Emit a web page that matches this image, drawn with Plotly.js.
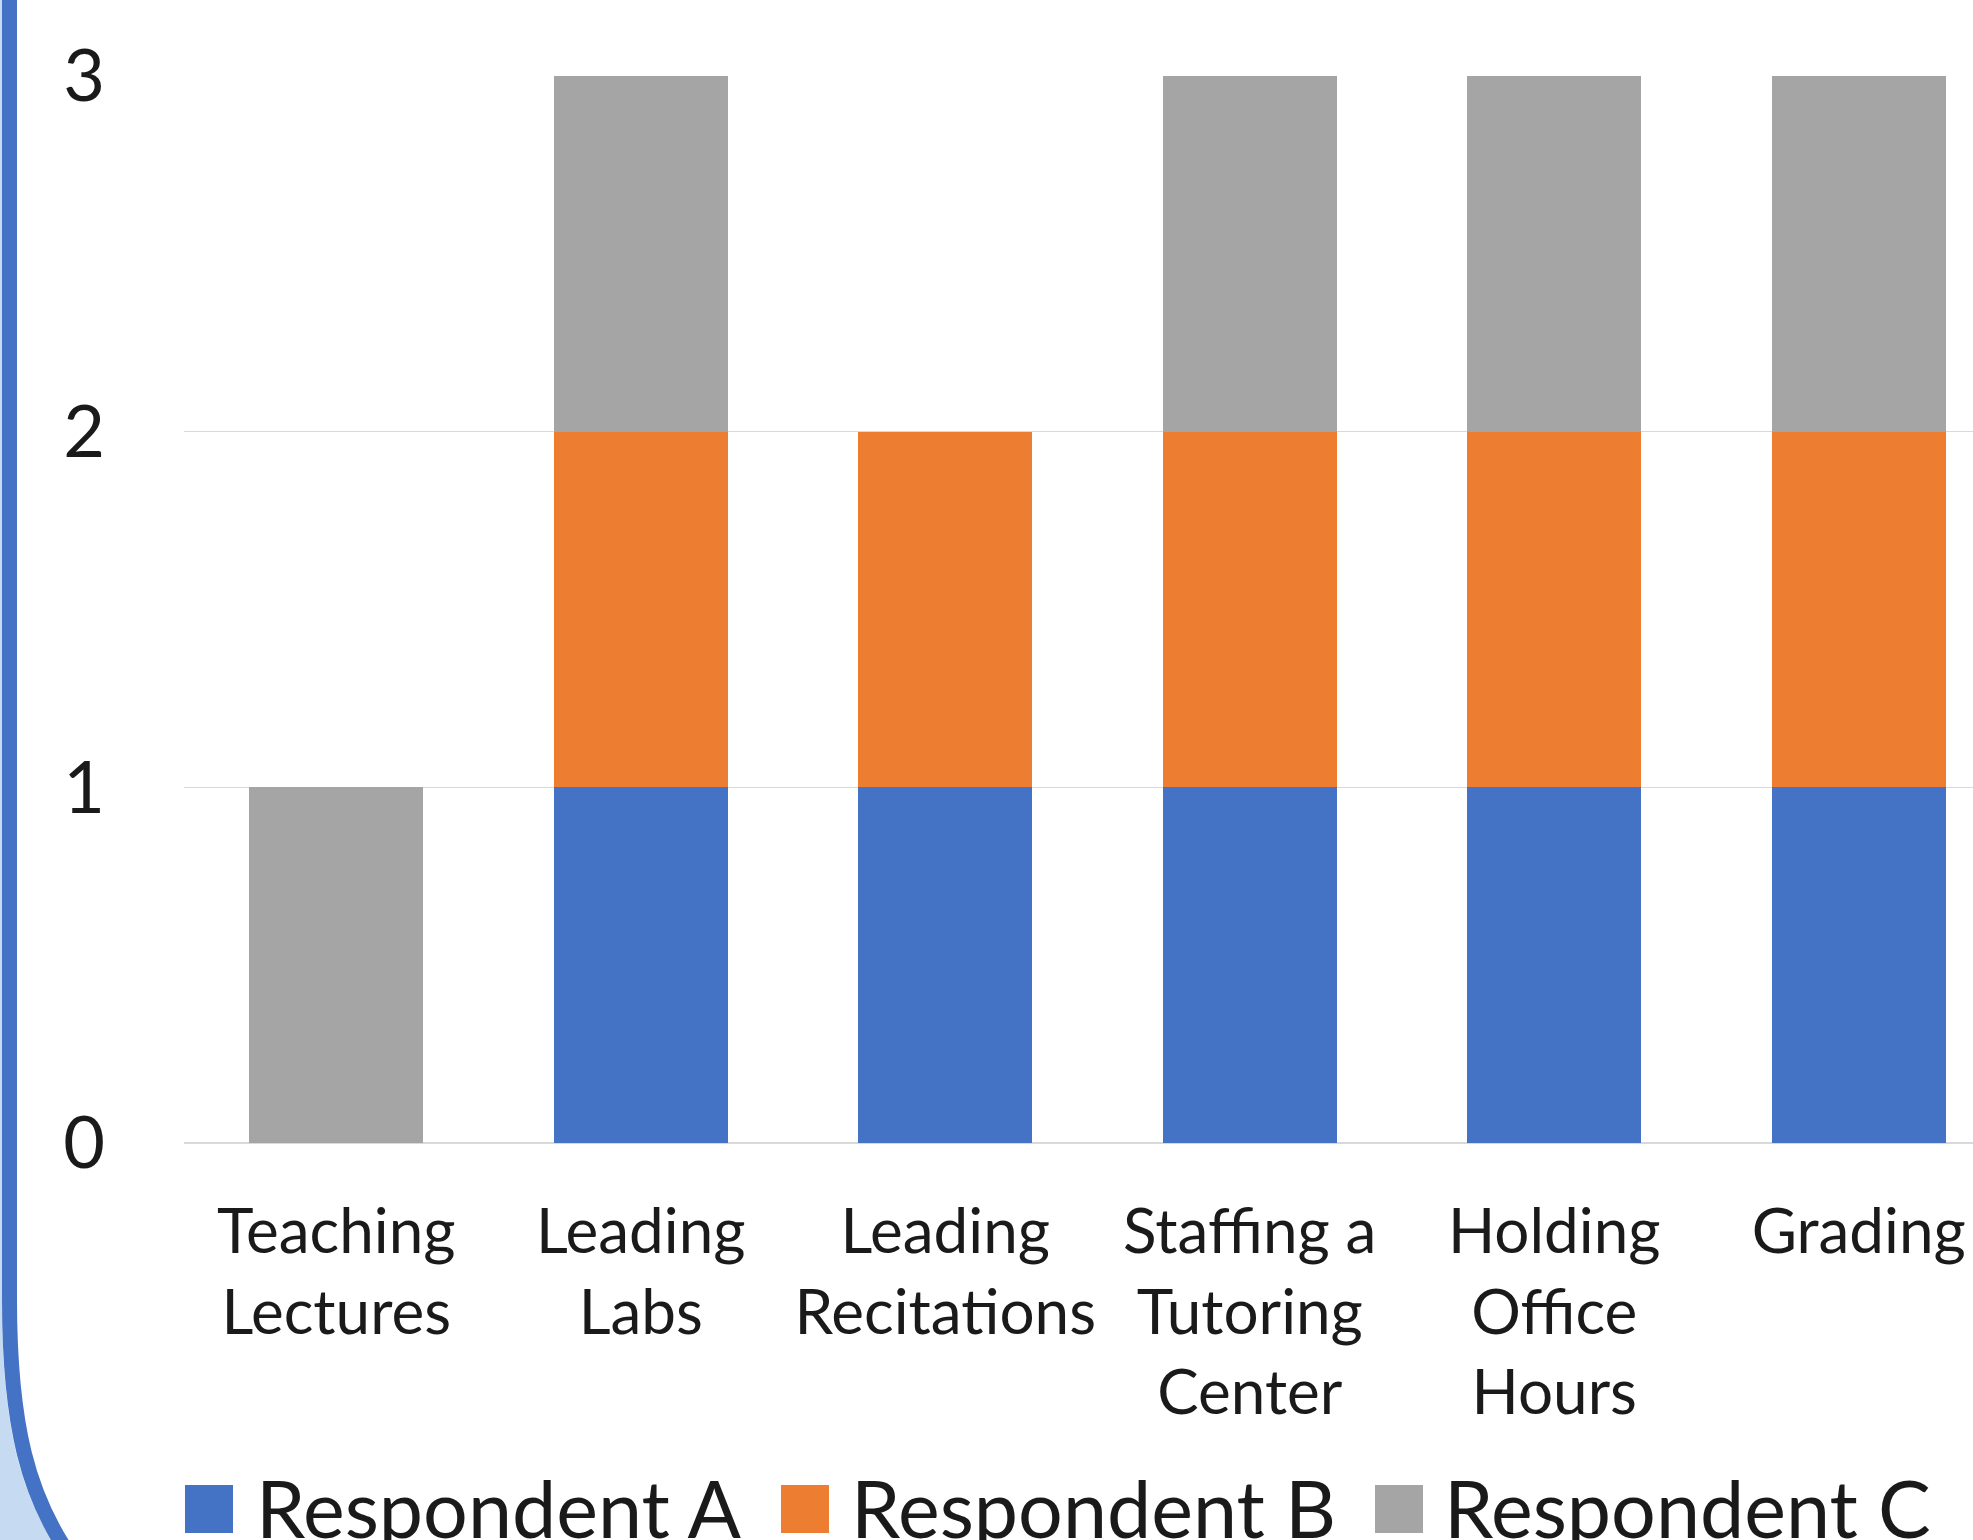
<!DOCTYPE html>
<html>
<head>
<meta charset="utf-8">
<script src="https://cdn.plot.ly/plotly-3.0.1.min.js"></script>
<style>
html,body{margin:0;padding:0;background:#fff;overflow:hidden;}
#chart{width:1973px;height:1540px;}
</style>
</head>
<body>
<div id="chart"></div>
<script>
// ---- data ----
var categories = ["Teaching<br>Lectures", "Leading<br>Labs", "Leading<br>Recitations",
                  "Staffing a<br>Tutoring<br>Center", "Holding<br>Office<br>Hours", "Grading"];
var seriesNames = ["Respondent A", "Respondent B", "Respondent C"];
var respondentA = [0, 1, 1, 1, 1, 1];
var respondentB = [0, 1, 1, 1, 1, 1];
var respondentC = [1, 1, 0, 1, 1, 1];
var yTickValues = [0, 1, 2, 3];
var yTickLabels = ["0", "1", "2", "3"];

var colors = ["#4472c4", "#ed7d31", "#a5a5a5"];
var seriesValues = [respondentA, respondentB, respondentC];

var W = 1973, H = 1540;
var L = 184, T = 76, B = 1143; // plot area in px
var R = W;
function px(x){ return (x - L) / (R - L); }
function py(y){ return (B - y) / (B - T); }

var FONT = "Lato, 'Open Sans', sans-serif";
var txtColor = "#1a1a1a";

var traces = seriesValues.map(function(vals, i){
  return {
    type: "bar",
    name: seriesNames[i],
    x: categories,
    y: vals,
    marker: {color: colors[i], line: {width: 0}},
    showlegend: false,
    hoverinfo: "skip"
  };
});

var shapes = [];
var annotations = [];

// decorative frame at left
var fillPath = "M " + px(-5) + "," + py(-5) + " L " + px(2) + "," + py(-5) +
  " L " + px(2) + "," + py(1300) +
  " C " + px(2) + "," + py(1430) + " " + px(22) + "," + py(1495) + " " + px(56) + "," + py(1545) +
  " L " + px(-5) + "," + py(1545) + " Z";
shapes.push({type: "path", xref: "paper", yref: "paper", path: fillPath,
  fillcolor: "#c6dbf1", line: {width: 0}, layer: "below"});
var linePath = "M " + px(9.5) + "," + py(-20) + " L " + px(9.5) + "," + py(1300) +
  " C " + px(9.5) + "," + py(1430) + " " + px(30) + "," + py(1495) + " " + px(66) + "," + py(1550);
shapes.push({type: "path", xref: "paper", yref: "paper", path: linePath,
  line: {color: "#4472c4", width: 15}, layer: "below"});

// custom legend (squares + names)
var legSquareX = [185, 781, 1375];
var legTextX = [254, 849, 1442];
var legTop = 1485, legSize = 48;
seriesNames.forEach(function(name, i){
  shapes.push({type: "rect", xref: "paper", yref: "paper",
    x0: px(legSquareX[i]), x1: px(legSquareX[i] + legSize),
    y0: py(legTop + legSize), y1: py(legTop),
    fillcolor: colors[i], line: {width: 0}});
  annotations.push({xref: "paper", yref: "paper",
    x: px(legTextX[i]), y: py(1508), xanchor: "left", yanchor: "middle",
    text: name, showarrow: false,
    font: {family: FONT, size: 79, color: txtColor}});
});

var layout = {
  width: W, height: H,
  margin: {l: L, r: 0, t: T, b: H - B, pad: 0},
  paper_bgcolor: "#ffffff",
  plot_bgcolor: "#ffffff",
  barmode: "stack",
  bargap: 0.429,
  showlegend: false,
  xaxis: {
    range: [-0.5, (R - L) / ((R - L + 38) / 6) - 0.5],
    tickfont: {family: FONT, size: 62, color: txtColor},
    showgrid: false, zeroline: false, showline: false,
    ticks: "", ticklabelstandoff: 47, fixedrange: true, tickangle: 0
  },
  yaxis: {
    range: [0, 3],
    tickvals: yTickValues, ticktext: yTickLabels,
    tickfont: {family: FONT, size: 72, color: txtColor},
    showgrid: true, gridcolor: "#d9d9d9", gridwidth: 1.5,
    zeroline: true, zerolinecolor: "#d9d9d9", zerolinewidth: 1.5,
    showline: false, ticks: "", ticklabelstandoff: 78, fixedrange: true
  },
  shapes: shapes,
  annotations: annotations
};

Plotly.newPlot("chart", traces, layout, {displayModeBar: false, staticPlot: true});
</script>
</body>
</html>
